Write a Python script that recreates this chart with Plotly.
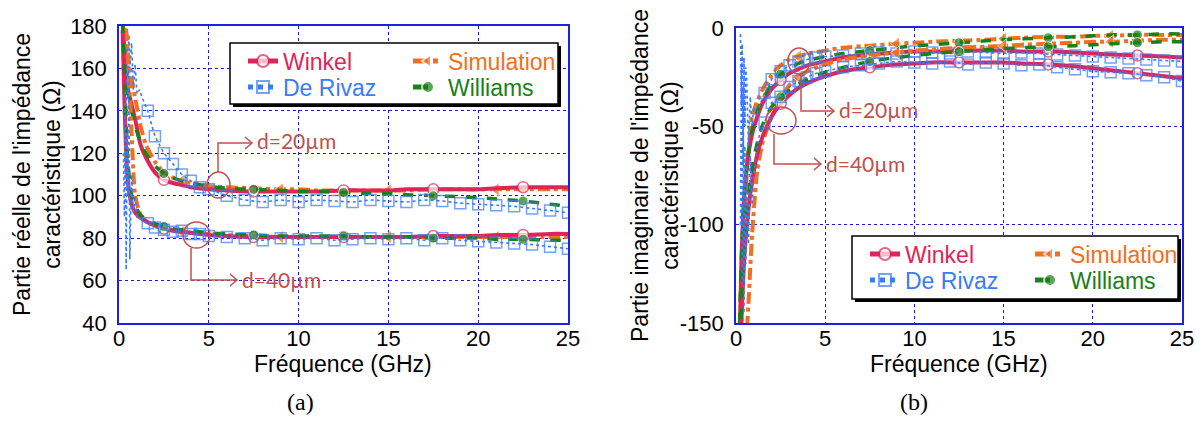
import plotly.graph_objects as go

W, H = 1203, 423

# ---------------- data ----------------
F = [0.2, 0.3, 0.4, 0.5, 0.7, 0.9, 1.2, 1.5, 2, 2.5, 3, 3.5, 4, 5, 6, 7.5, 9, 10, 11, 12.5,
     14, 15, 16, 17.5, 19, 20, 21, 22.5, 24, 25]
FR = [0.25, 0.3, 0.35, 0.4, 0.45, 0.5, 0.55, 0.6, 0.7, 0.8, 0.9, 1.0, 1.15, 1.3, 1.6, 2.0, 2.5, 3.0, 3.5, 4.0, 4.5, 5.0,
      6, 7, 8, 9, 10, 11, 12, 13, 14, 15, 16, 17, 18, 19, 20, 21, 22, 23, 24, 25]

# (a) real part
RE_WINKEL_20 = [185, 168, 158, 150, 143, 136, 124, 118, 111, 107.5, 106, 105, 104, 103, 102.5, 102, 102, 102, 102, 102.5,
                102.5, 102.5, 103, 103, 103, 103, 103.5, 104, 104, 104]
RE_SIM_20 = [190, 180, 172, 166, 155, 146, 133, 124, 116, 111, 108.5, 107, 106, 104.5, 104, 103.5, 103, 103, 102.5, 102.5,
             102.5, 102.5, 102.5, 103, 103, 103, 103, 103, 103, 103]
RE_WILL_20 = [180, 165, 156, 149, 140, 133, 125, 120, 114, 110.5, 108.5, 107, 106, 104.5, 103.5, 103, 102.5, 102, 102, 101.5,
              101, 101, 100.5, 100, 99.5, 99, 98.5, 97.5, 96, 95]
RE_RIVAZ_20 = [175, 150, 178, 130, 170, 145, 176, 160, 172, 150, 162, 148, 150, 146, 140, 128, 120, 115, 110, 107, 104, 103,
               100, 98, 97, 98, 97, 98, 97.5, 97, 98, 97.5, 97, 98, 97.5, 96.5, 96, 95.5, 95, 94, 93, 92]
RE_WINKEL_40 = [178, 145, 120, 106, 96, 92, 89.5, 88, 86, 84.5, 83.5, 83, 82.5, 81.5, 81, 80.5, 80.5, 80.5, 80.5, 80.5,
                80.5, 80.5, 80.5, 81, 81, 81, 81.5, 81.5, 82, 82]
RE_SIM_40 = [190, 185, 178, 165, 130, 100, 91, 88, 86, 85, 84, 83, 82.5, 82, 81.5, 81, 80.5, 80.5, 80.5, 80.5,
             80.5, 80.5, 80.5, 80.5, 80.5, 80.5, 80.5, 80.5, 80.5, 80.5]
RE_WILL_40 = [182, 160, 135, 115, 100, 95, 91, 89, 87, 85.5, 84.5, 84, 83.5, 82.5, 82, 81.5, 81, 81, 81, 81,
              80.5, 80.5, 80.5, 80, 80, 80, 79.5, 79.5, 79, 79]
RE_RIVAZ_40 = [120, 90, 150, 65, 130, 100, 160, 70, 110, 92, 100, 90, 90, 88, 87, 85, 84, 83, 83.5, 82, 82, 81,
               80.5, 80, 79, 80, 79.5, 80, 79, 79.5, 80, 79.5, 80, 79, 80, 79, 78.5, 78, 77.5, 77, 76, 75]

# (b) imaginary part
IM_WINKEL_20 = [-160, -120, -95, -80, -64, -54, -45, -38, -31, -26.5, -23, -21, -19, -17, -15, -13.5, -12.5, -12, -12, -11.5,
                -11.5, -11.5, -12, -12, -12.5, -13, -13.5, -14, -14.5, -15]
IM_SIM_20 = [-190, -150, -115, -90, -62, -45, -37, -31, -24, -19, -16, -14.5, -13, -11.5, -10, -9, -8, -7.5, -7, -6.5,
             -6, -5.5, -5, -4.5, -4.5, -4, -4, -3.5, -3.5, -3.5]
IM_WILL_20 = [-150, -118, -96, -82, -63, -52, -42, -36, -28.5, -23.5, -20.5, -18, -16.5, -14.5, -13, -11.5, -10, -9, -8.5, -7.5,
              -6.5, -6, -5.5, -5, -4.5, -4, -3.5, -3.5, -3, -3]
IM_RIVAZ_20 = [-3, -40, -8, -70, -15, -50, -20, -27, -60, -35, -50, -40, -45, -40, -33, -26, -22, -19, -17, -16, -15, -14.5,
               -14, -13, -12.5, -13, -12, -12.5, -13, -12, -12.5, -13, -12.5, -13, -13.5, -14, -14.5, -15, -15.5, -16, -16.5, -17]
IM_WINKEL_40 = [-200, -150, -128, -112, -92, -78, -64, -55, -45, -38.5, -34, -30.5, -28, -24.5, -22, -20, -18.5, -18, -17.5, -17.5,
                -17.5, -17.5, -18, -18.5, -19.5, -20.5, -21.5, -23, -24.5, -25.5]
IM_SIM_40 = [-250, -220, -190, -170, -140, -105, -72, -58, -45, -36, -29, -25, -22, -18.5, -16, -14, -12.5, -11.5, -11, -10,
             -9.5, -9, -8.5, -8, -7.5, -7, -7, -6.5, -6, -6]
IM_WILL_40 = [-180, -140, -118, -103, -84, -71, -58, -49, -40, -35, -31.5, -28.5, -26, -22.5, -20, -17, -15, -14, -13, -12,
              -11, -10.5, -10, -9.5, -9, -8.5, -8, -7.5, -7, -7]
IM_RIVAZ_40 = [-100, -20, -130, -30, -145, -60, -120, -70, -110, -65, -90, -75, -62, -55, -48, -38, -35, -30, -27, -25, -23, -22,
               -20, -19, -18, -17, -17.5, -18, -17, -18.5, -17.5, -18, -19, -18.5, -20, -21, -22, -22.5, -23, -24, -25, -27]

SERIES = ["Winkel", "Simulation", "De Rivaz", "Williams"]
MARK_F_CIRCLE = [2.5, 7.5, 12.5, 17.5, 22.5]
MARK_F_ARROW = [3.5, 9, 15, 21]
RIVAZ_MARK_FROM = 1.5

X_TICKS = [0, 5, 10, 15, 20, 25]
Y1_TICKS = [40, 60, 80, 100, 120, 140, 160, 180]
Y2_TICKS = [-150, -100, -50, 0]
Y2_TICKTEXT = ["-150", "-100", "-50", "0"]

# ---------------- style ----------------
C_WIN = "#DE2559"
C_SIM = "#F07020"
C_RIV = "#3A7BF6"
C_WIL = "#1A801A"
C_ANN = "#C0504D"
GRID = "#1A1AE6"
AXIS = "#2020E0"
FONT = "Liberation Sans"


def PX(x):
    return x / W


def PY(y):
    return 1 - y / H


def sizes(xs, marks, s):
    return [s if x in marks else 0 for x in xs]


fig = go.Figure()


def add_group(xa, ya, data, legends):
    (w20, s20, l20, r20, w40, s40, l40, r40) = data
    for d, (w, s, l, r) in enumerate([(w20, s20, l20, r20), (w40, s40, l40, r40)]):
        show = d == 0
        fig.add_trace(go.Scatter(
            x=F, y=s, mode="lines+markers", name="Simulation", legend=legends[1], showlegend=show,
            xaxis=xa, yaxis=ya, line=dict(color=C_SIM, width=4, dash="dashdot", shape="spline", smoothing=0.6),
            marker=dict(symbol="triangle-left", color=C_SIM, size=sizes(F, MARK_F_ARROW, 12))))
        fig.add_trace(go.Scatter(
            x=F, y=w, mode="lines+markers", name="Winkel", legend=legends[0], showlegend=show,
            xaxis=xa, yaxis=ya, line=dict(color=C_WIN, width=4, shape="spline", smoothing=0.6),
            marker=dict(symbol="circle", color="white", size=sizes(F, MARK_F_CIRCLE, 11),
                        line=dict(color=C_WIN, width=1.5))))
        fig.add_trace(go.Scatter(
            x=F, y=l, mode="lines+markers", name="Williams", legend=legends[3], showlegend=show,
            xaxis=xa, yaxis=ya, line=dict(color=C_WIL, width=3.5, dash="dash", shape="spline", smoothing=0.6),
            marker=dict(symbol="circle", color=C_WIL, size=sizes(F, MARK_F_CIRCLE, 10))))
        fig.add_trace(go.Scatter(
            x=FR, y=r, mode="lines+markers", name="De Rivaz", legend=legends[2], showlegend=show,
            xaxis=xa, yaxis=ya, line=dict(color=C_RIV, width=1.6, dash="dot"),
            marker=dict(symbol="square-open", color=C_RIV,
                        size=[11 if f >= RIVAZ_MARK_FROM else 0 for f in FR],
                        line=dict(color=C_RIV, width=1.5))))


add_group("x", "y", (RE_WINKEL_20, RE_SIM_20, RE_WILL_20, RE_RIVAZ_20,
                     RE_WINKEL_40, RE_SIM_40, RE_WILL_40, RE_RIVAZ_40),
          ["legend", "legend2", "legend3", "legend4"])
add_group("x2", "y2", (IM_WINKEL_20, IM_SIM_20, IM_WILL_20, IM_RIVAZ_20,
                       IM_WINKEL_40, IM_SIM_40, IM_WILL_40, IM_RIVAZ_40),
          ["legend5", "legend6", "legend7", "legend8"])

tickfont = dict(family=FONT, size=22, color="black")
axis_common = dict(showline=True, linecolor=AXIS, linewidth=1.5, mirror=True, ticks="",
                   showgrid=True, gridcolor=GRID, gridwidth=1, griddash="dot", zeroline=False,
                   tickfont=tickfont, automargin=False)

layout = dict(
    width=W, height=H, autosize=False,
    margin=dict(l=0, r=0, t=0, b=0, pad=0, autoexpand=False),
    paper_bgcolor="white", plot_bgcolor="white",
    xaxis=dict(domain=[PX(119), PX(568)], range=[0, 25], tickvals=X_TICKS, anchor="y",
               ticklabelstandoff=-5, **axis_common),
    yaxis=dict(domain=[PY(323), PY(26)], range=[40, 180], tickvals=Y1_TICKS, anchor="x",
               ticklabelstandoff=6, **axis_common),
    xaxis2=dict(domain=[PX(736), PX(1182)], range=[0, 25], tickvals=X_TICKS, anchor="y2",
                ticklabelstandoff=-5, **axis_common),
    yaxis2=dict(domain=[PY(323), PY(28)], range=[-150, 0], tickvals=Y2_TICKS, ticktext=Y2_TICKTEXT,
                anchor="x2", ticklabelstandoff=6, **axis_common),
    showlegend=True,
)

# legends: one entry each, so that the 2 x 2 arrangement matches
leg_pos = {
    "legend": (243, 61, C_WIN), "legend2": (408, 61, C_SIM),
    "legend3": (243, 87, C_RIV), "legend4": (408, 87, C_WIL),
    "legend5": (865, 254, C_WIN), "legend6": (1030, 254, C_SIM),
    "legend7": (865, 280, C_RIV), "legend8": (1030, 280, C_WIL),
}
for k, (lx, ly, col) in leg_pos.items():
    layout[k] = dict(x=PX(lx), y=PY(ly), xanchor="left", yanchor="middle", xref="paper", yref="paper",
                     bgcolor="rgba(0,0,0,0)", borderwidth=0, itemsizing="constant",
                     font=dict(family=FONT, size=23, color=col))

shapes = []
for (x0, y0, x1, y1) in [(230, 43, 558, 104), (852, 236, 1178, 299)]:
    shapes.append(dict(type="rect", xref="paper", yref="paper", layer="above",
                       x0=PX(x0 + 3), x1=PX(x1 + 3), y0=PY(y1 + 3), y1=PY(y0 + 3),
                       fillcolor="black", line=dict(width=0)))
    shapes.append(dict(type="rect", xref="paper", yref="paper", layer="above",
                       x0=PX(x0), x1=PX(x1), y0=PY(y1), y1=PY(y0),
                       fillcolor="white", line=dict(color="black", width=1.5)))


def path(points):
    return "M " + " L ".join(f"{PX(a):.5f},{PY(b):.5f}" for a, b in points)


annos = []
callouts = [
    # circle bbox, connector points, text x, text y
    ((207, 172, 230, 198), [(218, 172), (218, 143), (252, 143)], 255, 141),
    ((183, 222, 210, 248), [(191, 248), (191, 280), (237, 280)], 240, 279),
    ((788, 48, 810, 74), [(801, 74), (801, 111), (834, 111)], 837, 110),
    ((766, 107, 796, 134), [(774, 134), (774, 164), (821, 164)], 824, 163),
]
for (cx0, cy0, cx1, cy1), pts, tx, ty in callouts:
    shapes.append(dict(type="circle", xref="paper", yref="paper", layer="above",
                       x0=PX(cx0), x1=PX(cx1), y0=PY(cy1), y1=PY(cy0),
                       line=dict(color=C_ANN, width=1.5)))
    shapes.append(dict(type="path", xref="paper", yref="paper", layer="above",
                       path=path(pts), line=dict(color=C_ANN, width=1.5)))
    ex, ey = pts[-1]
    shapes.append(dict(type="path", xref="paper", yref="paper", layer="above",
                       path=path([(ex - 7, ey - 6), (ex, ey), (ex - 7, ey + 6)]),
                       line=dict(color=C_ANN, width=1.5)))
    annos.append(dict(text="d=20\u00b5m" if len(annos) % 2 == 0 else "d=40\u00b5m",
                      x=PX(tx), y=PY(ty), xref="paper", yref="paper", xanchor="left", yanchor="middle",
                      showarrow=False, font=dict(family="Lato", size=21, color=C_ANN)))

title_font = dict(family=FONT, size=23, color="black")
annos += [
    dict(text="Partie réelle de l'impédance<br>caractéristique (\u03a9)", x=PX(37), y=PY(175),
         xref="paper", yref="paper", textangle=-90, showarrow=False, font=title_font,
         xanchor="center", yanchor="middle"),
    dict(text="Partie imaginaire de l'impédance<br>caractéristique (\u03a9)", x=PX(655), y=PY(176),
         xref="paper", yref="paper", textangle=-90, showarrow=False, font=title_font,
         xanchor="center", yanchor="middle"),
    dict(text="Fréquence (GHz)", x=PX(343), y=PY(364), xref="paper", yref="paper", showarrow=False,
         font=title_font, xanchor="center", yanchor="middle"),
    dict(text="Fréquence (GHz)", x=PX(959), y=PY(364), xref="paper", yref="paper", showarrow=False,
         font=title_font, xanchor="center", yanchor="middle"),
    dict(text="(a)", x=PX(300), y=PY(402), xref="paper", yref="paper", showarrow=False,
         font=dict(family="Liberation Serif", size=24, color="black"), xanchor="center", yanchor="middle"),
    dict(text="(b)", x=PX(914), y=PY(402), xref="paper", yref="paper", showarrow=False,
         font=dict(family="Liberation Serif", size=24, color="black"), xanchor="center", yanchor="middle"),
]

layout["shapes"] = shapes
layout["annotations"] = annos
fig.update_layout(**layout)
fig.write_html("out.html", config={"displayModeBar": False},
               post_script="document.body.style.margin='0';document.body.style.overflow='hidden';")
